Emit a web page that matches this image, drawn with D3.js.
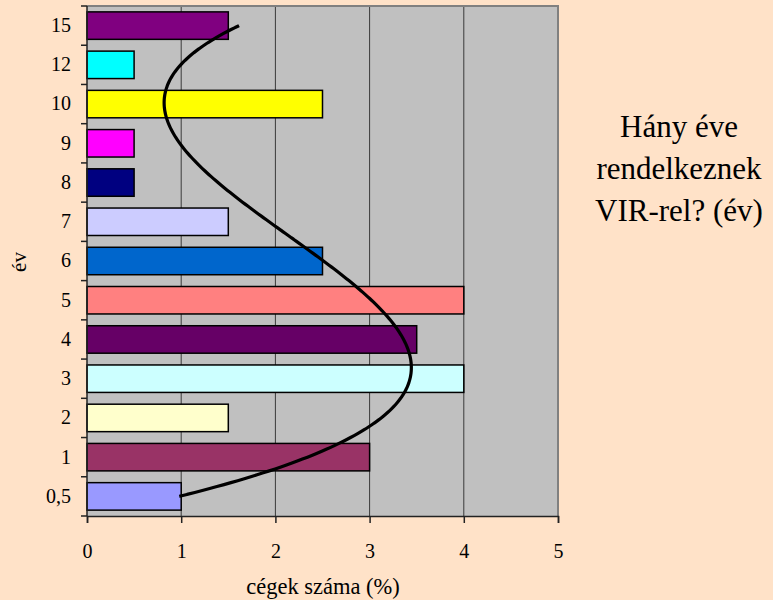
<!DOCTYPE html>
<html>
<head>
<meta charset="utf-8">
<script src="https://cdn.jsdelivr.net/npm/d3@7"></script>
<style>
  html, body { margin: 0; padding: 0; background: #FFE2C8; }
  svg { display: block; }
</style>
</head>
<body>
<svg id="chart" width="773" height="600"></svg>
<script>
// Years of use (top to bottom) and share of companies (%)
const categories = ["15", "12", "10", "9", "8", "7", "6", "5", "4", "3", "2", "1", "0,5"];
const values     = [1.5, 0.5, 2.5, 0.5, 0.5, 1.5, 2.5, 4, 3.5, 4, 1.5, 3, 1];
const barColors  = ["#800080", "#00FFFF", "#FFFF00", "#FF00FF", "#000080", "#CCCCFF",
                    "#0066CC", "#FF8080", "#660066", "#CCFFFF", "#FFFFCC", "#993366", "#9999FF"];
const xTicks     = [0, 1, 2, 3, 4, 5];
const titleLines = ["Hány éve", "rendelkeznek", "VIR-rel? (év)"];
const xTitle     = "cégek száma (%)";
const yTitle     = "év";

const FONT = "'Liberation Serif', 'Times New Roman', serif";
const svg = d3.select("#chart");
const plot = { left: 87, top: 6, right: 558, bottom: 516 };

const x = d3.scaleLinear().domain([0, 5]).range([plot.left, plot.right]);
const y = d3.scaleBand().domain(categories).range([plot.top, plot.bottom])
  .paddingInner(0.3).paddingOuter(0.15);

// plot background
svg.append("rect")
  .attr("x", plot.left).attr("y", plot.top)
  .attr("width", plot.right - plot.left).attr("height", plot.bottom - plot.top)
  .attr("fill", "#C0C0C0");

// vertical gridlines
svg.append("g").selectAll("line")
  .data(xTicks.filter(d => d > 0 && d < 5))
  .join("line")
  .attr("x1", d => x(d)).attr("x2", d => x(d))
  .attr("y1", plot.top).attr("y2", plot.bottom)
  .attr("stroke", "#3a3a3a").attr("stroke-width", 1);

// top and right border of the plot area
svg.append("path")
  .attr("d", `M${plot.left},${plot.top}H${plot.right}V${plot.bottom}`)
  .attr("fill", "none").attr("stroke", "#808080").attr("stroke-width", 2);

// bars
svg.append("g").selectAll("rect")
  .data(categories)
  .join("rect")
  .attr("x", x(0))
  .attr("y", d => y(d))
  .attr("width", (d, i) => x(values[i]) - x(0))
  .attr("height", y.bandwidth())
  .attr("fill", (d, i) => barColors[i])
  .attr("stroke", "#000").attr("stroke-width", 1.5);

// x axis
const xAxis = svg.append("g")
  .attr("transform", `translate(0,${plot.bottom})`)
  .call(d3.axisBottom(x).tickValues(xTicks).tickSize(7).tickPadding(21).tickFormat(d3.format("d")));
xAxis.attr("font-family", FONT).attr("font-size", 20);
xAxis.select(".domain").attr("stroke", "#222").attr("stroke-width", 1.5);
xAxis.selectAll(".tick line").attr("stroke", "#222").attr("stroke-width", 1.5);
xAxis.selectAll("text").attr("fill", "#000");

// y axis: labels centred on bands, tick marks on band boundaries
const yAxis = svg.append("g")
  .attr("transform", `translate(${plot.left},0)`)
  .call(d3.axisLeft(y).tickSize(0).tickPadding(16));
yAxis.attr("font-family", FONT).attr("font-size", 20);
yAxis.select(".domain").remove();
yAxis.selectAll("text").attr("fill", "#000");

const step = y.step();
const boundaries = d3.range(categories.length + 1).map(i =>
  (i === 0 ? plot.top : i === categories.length ? plot.bottom : y(categories[i]) - step * y.paddingInner() / 2));
svg.append("g").selectAll("line")
  .data(boundaries)
  .join("line")
  .attr("x1", plot.left - 6).attr("x2", plot.left)
  .attr("y1", d => d).attr("y2", d => d)
  .attr("stroke", "#222").attr("stroke-width", 1.5);
svg.append("line")
  .attr("x1", plot.left).attr("x2", plot.left)
  .attr("y1", plot.top).attr("y2", plot.bottom)
  .attr("stroke", "#222").attr("stroke-width", 1.5);

// polynomial trendline (3rd order, least squares) over category position
function polyFit(xs, ys, deg) {
  const n = deg + 1;
  const A = Array.from({ length: n }, () => new Array(n + 1).fill(0));
  xs.forEach((xv, k) => {
    for (let r = 0; r < n; r++) {
      for (let c = 0; c < n; c++) A[r][c] += Math.pow(xv, r + c);
      A[r][n] += ys[k] * Math.pow(xv, r);
    }
  });
  for (let i = 0; i < n; i++) {
    let p = i;
    for (let r = i + 1; r < n; r++) if (Math.abs(A[r][i]) > Math.abs(A[p][i])) p = r;
    [A[i], A[p]] = [A[p], A[i]];
    for (let r = 0; r < n; r++) {
      if (r === i) continue;
      const f = A[r][i] / A[i][i];
      for (let c = i; c <= n; c++) A[r][c] -= f * A[i][c];
    }
  }
  return A.map((row, i) => row[n] / row[i]);
}
// position 1 = bottom category
const positions = categories.map((d, i) => categories.length - i);
const coef = polyFit(positions, values, 3);
const evalPoly = t => coef.reduce((s, c, k) => s + c * Math.pow(t, k), 0);
const posToY = d3.scaleLinear()
  .domain([1, categories.length])
  .range([y(categories[categories.length - 1]) + y.bandwidth() / 2, y(categories[0]) + y.bandwidth() / 2]);
const samples = d3.range(1, categories.length + 0.001, 0.05);
svg.append("path")
  .datum(samples)
  .attr("d", d3.line().x(t => x(evalPoly(t))).y(t => posToY(t)).curve(d3.curveBasis))
  .attr("fill", "none").attr("stroke", "#000").attr("stroke-width", 3.2)
  .attr("stroke-linecap", "butt");

// axis titles
svg.append("text")
  .attr("x", 323).attr("y", 594)
  .attr("text-anchor", "middle")
  .attr("font-family", FONT).attr("font-size", 22.5)
  .text(xTitle);
svg.append("text")
  .attr("transform", `translate(26,262) rotate(-90)`)
  .attr("text-anchor", "middle")
  .attr("font-family", FONT).attr("font-size", 21)
  .text(yTitle);

// chart title on the right
svg.append("g").selectAll("text")
  .data(titleLines)
  .join("text")
  .attr("x", 679).attr("y", (d, i) => 137 + i * 42)
  .attr("text-anchor", "middle")
  .attr("font-family", FONT).attr("font-size", 31)
  .text(d => d);
</script>
</body>
</html>
